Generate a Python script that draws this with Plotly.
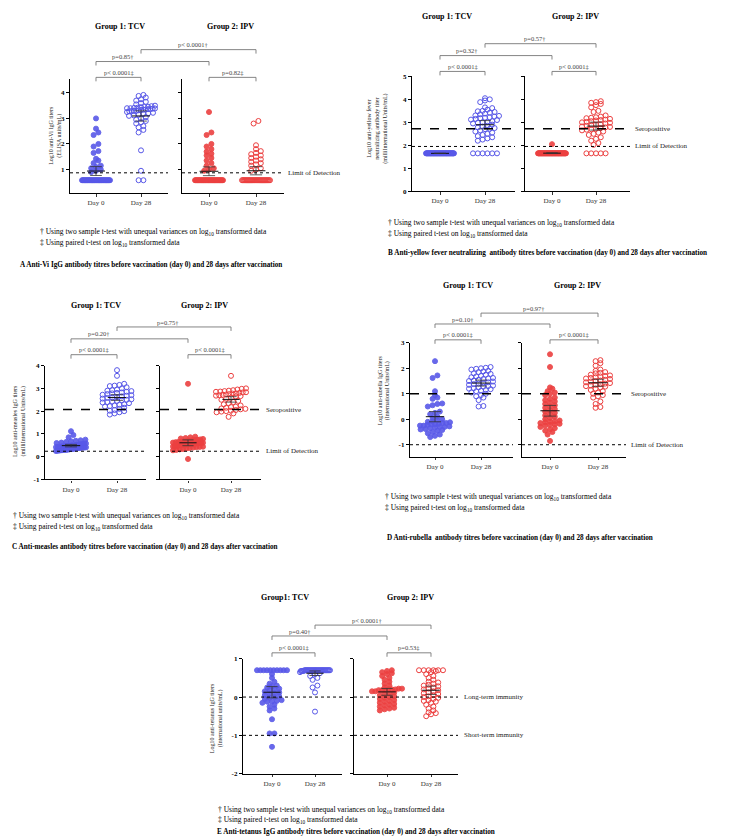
import numpy as np
import plotly.graph_objects as go

W, H = 731, 837
FONT = "Liberation Serif"
BLUE = "rgb(88,88,232)"
RED = "rgb(236,64,64)"

# ---------------- data (log10 titres) ----------------
DAYS = ["Day 0", "Day 28"]

A_TCV_D0 = [0.58, 0.58, 0.58, 0.58, 0.58, 0.58, 0.58, 0.58, 0.58, 0.58,
            0.58, 0.58, 0.58, 0.58, 0.58, 0.58, 0.58, 0.58, 0.58, 0.58,
            0.58, 0.58, 0.58, 0.58, 0.58, 0.58, 0.58, 0.58, 0.58, 0.58,
            0.58, 0.58, 0.58,
            0.9, 0.95, 1.0, 1.05, 1.1, 1.15, 1.25, 1.35, 1.42, 1.65, 1.72,
            1.9, 2.0, 2.35, 2.45, 2.6, 3.0]
A_TCV_D28 = [3.92, 3.88, 3.82, 3.75, 3.7, 3.65, 3.6, 3.55, 3.5, 3.48, 3.46,
             3.45, 3.44, 3.42, 3.41, 3.4, 3.4, 3.39, 3.38, 3.37, 3.36, 3.35,
             3.34, 3.33, 3.32, 3.3, 3.3, 3.29, 3.28, 3.25, 3.22, 3.2, 3.18,
             3.15, 3.12, 3.1, 3.05, 3.0, 2.95, 2.9, 2.85, 2.8, 2.7, 2.65,
             2.55, 2.45, 1.75, 0.95, 0.58, 0.58]
A_IPV_D0 = [0.58, 0.58, 0.58, 0.58, 0.58, 0.58, 0.58, 0.58, 0.58, 0.58,
            0.58, 0.58, 0.58, 0.58, 0.58, 0.58, 0.58, 0.58, 0.58, 0.58,
            0.58, 0.58, 0.58, 0.58, 0.58, 0.58, 0.58, 0.58, 0.58, 0.58,
            0.58, 0.58, 0.58, 0.58,
            0.95, 1.0, 1.05, 1.15, 1.25, 1.35, 1.45, 1.55, 1.62, 1.7, 1.8,
            1.9, 2.0, 2.35, 2.45, 3.25]
A_IPV_D28 = [0.58, 0.58, 0.58, 0.58, 0.58, 0.58, 0.58, 0.58, 0.58, 0.58,
             0.58, 0.58, 0.58, 0.58, 0.58, 0.58, 0.58, 0.58, 0.58, 0.58,
             0.58, 0.58, 0.58, 0.58, 0.58, 0.58, 0.58, 0.58, 0.58, 0.58,
             0.58,
             0.95, 1.0, 1.05, 1.15, 1.2, 1.25, 1.3, 1.35, 1.4, 1.45, 1.5,
             1.55, 1.6, 1.65, 1.72, 1.8, 1.95, 2.8, 2.9]

B_TCV_D0 = [1.65, 1.65, 1.65, 1.65, 1.65, 1.65, 1.65, 1.65, 1.65, 1.65,
            1.65, 1.65, 1.65, 1.65, 1.65, 1.65, 1.65, 1.65, 1.65, 1.65,
            1.65, 1.65, 1.65, 1.65, 1.65, 1.65, 1.65, 1.65, 1.65, 1.65,
            1.65, 1.65, 1.65, 1.65, 1.65, 1.65, 1.65, 1.65, 1.65, 1.65,
            1.65, 1.65, 1.65, 1.65, 1.65, 1.65, 1.65, 1.65]
B_TCV_D28 = [4.05, 4.0, 3.95, 3.88, 3.65, 3.62, 3.55, 3.5, 3.48, 3.45, 3.42,
             3.38, 3.35, 3.3, 3.28, 3.25, 3.22, 3.2, 3.18, 3.15, 3.12, 3.1,
             3.05, 3.02, 3.0, 2.98, 2.95, 2.9, 2.85, 2.82, 2.78, 2.75, 2.72,
             2.7, 2.65, 2.6, 2.55, 2.5, 2.45, 2.4, 2.35, 2.3, 2.25, 2.2,
             1.65, 1.65, 1.65, 1.65, 1.65, 1.65]
B_IPV_D0 = [1.65, 1.65, 1.65, 1.65, 1.65, 1.65, 1.65, 1.65, 1.65, 1.65,
            1.65, 1.65, 1.65, 1.65, 1.65, 1.65, 1.65, 1.65, 1.65, 1.65,
            1.65, 1.65, 1.65, 1.65, 1.65, 1.65, 1.65, 1.65, 1.65, 1.65,
            1.65, 1.65, 1.65, 1.65, 1.65, 1.65, 1.65, 1.65, 1.65, 1.65,
            1.65, 1.65, 1.65, 1.65, 1.65, 1.65, 1.65, 1.65, 2.05]
B_IPV_D28 = [3.92, 3.88, 3.85, 3.8, 3.75, 3.65, 3.5, 3.45, 3.3, 3.25, 3.22,
             3.2, 3.18, 3.15, 3.12, 3.1, 3.08, 3.05, 3.02, 3.0, 2.98, 2.95,
             2.92, 2.9, 2.88, 2.85, 2.82, 2.8, 2.78, 2.75, 2.72, 2.7, 2.68,
             2.65, 2.6, 2.55, 2.5, 2.45, 2.35, 2.28, 2.2, 2.1, 2.02,
             1.65, 1.65, 1.65, 1.65, 1.65]

C_TCV_D0 = [1.12, 0.95, 0.85, 0.75, 0.72, 0.7, 0.68, 0.65, 0.62, 0.6, 0.58,
            0.57, 0.55, 0.55, 0.53, 0.52, 0.5, 0.5, 0.49, 0.48, 0.47, 0.46,
            0.45, 0.45, 0.44, 0.43, 0.42, 0.41, 0.4, 0.4, 0.39, 0.38, 0.37,
            0.36, 0.35, 0.34, 0.33, 0.32, 0.31, 0.3, 0.3, 0.29, 0.28, 0.27,
            0.26, 0.25]
C_TCV_D28 = [3.8, 3.55, 3.2, 3.15, 3.12, 3.1, 3.05, 3.0, 2.95, 2.92, 2.9,
             2.88, 2.85, 2.82, 2.8, 2.78, 2.75, 2.72, 2.7, 2.68, 2.65, 2.62,
             2.6, 2.58, 2.55, 2.52, 2.5, 2.48, 2.45, 2.42, 2.4, 2.38, 2.35,
             2.3, 2.28, 2.25, 2.22, 2.2, 2.15, 2.1, 2.05, 2.02, 2.0, 1.95,
             1.9, 1.85]
C_IPV_D0 = [3.2, 0.88, 0.85, 0.82, 0.8, 0.78, 0.76, 0.75, 0.73, 0.72, 0.7,
            0.68, 0.67, 0.66, 0.65, 0.64, 0.62, 0.61, 0.6, 0.59, 0.58, 0.57,
            0.56, 0.55, 0.54, 0.53, 0.52, 0.51, 0.5, 0.49, 0.48, 0.47, 0.46,
            0.45, 0.44, 0.43, 0.42, 0.4, 0.38, 0.36, 0.34, 0.32, 0.3, 0.28,
            -0.1]
C_IPV_D28 = [3.55, 3.0, 2.98, 2.95, 2.92, 2.9, 2.88, 2.86, 2.85, 2.83, 2.82,
             2.8, 2.78, 2.77, 2.75, 2.73, 2.72, 2.7, 2.68, 2.66, 2.65, 2.6,
             2.55, 2.5, 2.45, 2.4, 2.35, 2.3, 2.25, 2.2, 2.18, 2.15, 2.12,
             2.1, 2.08, 2.05, 2.02, 2.0, 1.98, 1.95, 1.9, 1.75]

D_TCV_D0 = [2.28, 1.72, 1.62, 1.1, 0.95, 0.85, 0.8, 0.62, 0.6, 0.55, 0.5,
            0.3, 0.25, 0.2, 0.1, 0.05, 0.0, -0.05, -0.08, -0.1, -0.12, -0.15,
            -0.15, -0.18, -0.2, -0.2, -0.22, -0.25, -0.25, -0.28, -0.3, -0.3,
            -0.32, -0.35, -0.38, -0.4, -0.42, -0.45, -0.5, -0.55, -0.6,
            -0.65, -0.7]
D_TCV_D28 = [2.05, 2.02, 2.0, 1.98, 1.95, 1.9, 1.88, 1.85, 1.8, 1.78, 1.75,
             1.7, 1.68, 1.65, 1.62, 1.6, 1.58, 1.55, 1.52, 1.5, 1.48, 1.45,
             1.42, 1.4, 1.38, 1.35, 1.32, 1.3, 1.28, 1.25, 1.22, 1.2, 1.18,
             1.15, 1.12, 1.1, 1.05, 1.0, 0.95, 0.9, 0.85, 0.75, 0.52, 0.5]
D_IPV_D0 = [2.55, 2.05, 1.25, 1.2, 1.1, 1.05, 1.0, 0.95, 0.85, 0.8, 0.75,
            0.7, 0.65, 0.6, 0.55, 0.5, 0.45, 0.4, 0.35, 0.3, 0.25, 0.2, 0.15,
            0.1, 0.05, 0.0, -0.05, -0.08, -0.1, -0.12, -0.15, -0.18, -0.2,
            -0.22, -0.25, -0.3, -0.35, -0.4, -0.45, -0.5, -0.6, -0.85]
D_IPV_D28 = [2.32, 2.28, 2.2, 2.1, 1.95, 1.9, 1.85, 1.82, 1.8, 1.75, 1.72,
             1.7, 1.68, 1.65, 1.62, 1.6, 1.58, 1.55, 1.52, 1.5, 1.48, 1.45,
             1.42, 1.4, 1.38, 1.35, 1.32, 1.3, 1.28, 1.25, 1.2, 1.15, 1.1,
             1.05, 1.0, 0.95, 0.9, 0.85, 0.7, 0.6, 0.48, 0.45]

E_TCV_D0 = [0.7, 0.7, 0.7, 0.7, 0.7, 0.7, 0.7, 0.7, 0.7, 0.7,
            0.6, 0.5, 0.4, 0.35, 0.3, 0.28, 0.25, 0.22, 0.2, 0.18, 0.15,
            0.12, 0.1, 0.08, 0.05, 0.02, 0.0, -0.02, -0.05, -0.08, -0.1,
            -0.12, -0.12, -0.15, -0.2, -0.25, -0.3, -0.35, -0.58, -0.95,
            -0.95, -1.3]
E_TCV_D28 = [0.7, 0.7, 0.7, 0.7, 0.7, 0.7, 0.7, 0.7, 0.7, 0.7,
             0.7, 0.7, 0.7, 0.7, 0.7, 0.7, 0.7, 0.7, 0.7, 0.7,
             0.7, 0.7, 0.7, 0.7, 0.7, 0.7, 0.7, 0.7, 0.7, 0.7,
             0.68, 0.68, 0.68, 0.68, 0.65, 0.62, 0.6, 0.55, 0.5, 0.45, 0.3,
             0.25, 0.12, -0.38]
E_IPV_D0 = [0.7, 0.68, 0.65, 0.62, 0.6, 0.55, 0.5, 0.45, 0.4, 0.35, 0.3,
            0.25, 0.22, 0.22, 0.2, 0.2, 0.2, 0.18, 0.18, 0.18, 0.15, 0.15,
            0.12, 0.1, 0.08, 0.05, 0.02, 0.0, -0.02, -0.05, -0.08, -0.1,
            -0.12, -0.15, -0.18, -0.2, -0.22, -0.25, -0.28, -0.3, -0.32,
            -0.35]
E_IPV_D28 = [0.7, 0.7, 0.7, 0.7, 0.7, 0.7, 0.68, 0.65, 0.6, 0.55, 0.5,
             0.45, 0.4, 0.38, 0.35, 0.32, 0.3, 0.28, 0.25, 0.22, 0.2, 0.18,
             0.15, 0.12, 0.1, 0.08, 0.05, 0.02, 0.0, -0.02, -0.05, -0.08,
             -0.1, -0.12, -0.15, -0.2, -0.25, -0.3, -0.35, -0.4, -0.42,
             -0.45, -0.5]

FOOT1 = "† Using two sample t-test with unequal variances on log<sub>10</sub> transformed data"
FOOT2 = "‡ Using paired t-test on log<sub>10</sub> transformed data"

PANELS = [
    dict(
        tcv=(A_TCV_D0, A_TCV_D28), ipv=(A_IPV_D0, A_IPV_D28),
        titles=("Group 1: TCV", "Group 2: IPV"),
        ytitle="Log10 anti-Vi IgG titers<br>(ELISA units/mL)",
        yticks=[1, 2, 3, 4], yr=[0.07, 4.53],
        refs=[(0.87, "dot", "Limit of Detection")],
        p=("p< 0.0001‡", "p=0.82‡", "p=0.85†", "p< 0.0001†"),
        caption="A Anti-Vi IgG antibody titres before vaccination (day 0) and 28 days after vaccination",
        left=(62, 160, 88, 133), right=(174, 276, 201, 248), T=68, B=183,
        ttl=((112, 15), (222, 15)), yl=(48, 125), refx=278,
        br=(66, 50, 38), foot=(30, 222, 233), cap=(10, 255), maxw=28,
    ),
    dict(
        tcv=(B_TCV_D0, B_TCV_D28), ipv=(B_IPV_D0, B_IPV_D28),
        titles=("Group 1: TCV", "Group 2: IPV"),
        ytitle="Log10 anti-yellow fever<br>neutralizing antibody titer<br>(milliInternational Units/mL)",
        yticks=[0, 1, 2, 3, 4, 5], yr=[0, 5],
        refs=[(2.72, "dash", "Seropositive"), (1.95, "dot", "Limit of Detection")],
        p=("p< 0.0001‡", "p< 0.0001‡", "p=0.32†", "p=0.57†"),
        caption="B Anti-yellow fever neutralizing  antibody titres before vaccination (day 0) and 28 days after vaccination",
        left=(404, 507, 432, 477), right=(517, 622, 544, 588), T=65, B=181,
        ttl=((439, 5), (567, 5)), yl=(370, 118), refx=625,
        br=(60, 44, 32), foot=(378, 213, 224), cap=(378, 243), maxw=28,
    ),
    dict(
        tcv=(C_TCV_D0, C_TCV_D28), ipv=(C_IPV_D0, C_IPV_D28),
        titles=("Group 1: TCV", "Group 2: IPV"),
        ytitle="Log10 anti-measles IgG titers<br>(milliInternational Units/mL)",
        yticks=[-1, 0, 1, 2, 3, 4], yr=[-1, 4],
        refs=[(2.07, "dash", "Seropositive"), (0.24, "dot", "Limit of Detection")],
        p=("p< 0.0001‡", "p< 0.0001‡", "p=0.20†", "p=0.75†"),
        caption="C Anti-measles antibody titres before vaccination (day 0) and 28 days after vaccination",
        left=(37, 138, 63, 109), right=(152, 253, 180, 223), T=357, B=472,
        ttl=((88, 296), (196, 296)), yl=(11, 413), refx=256,
        br=(346, 330, 318), foot=(3, 509, 520), cap=(2, 540), maxw=30,
    ),
    dict(
        tcv=(D_TCV_D0, D_TCV_D28), ipv=(D_IPV_D0, D_IPV_D28),
        titles=("Group 1: TCV", "Group 2: IPV"),
        ytitle="Log10 anti-rubella IgG titers<br>(International Units/mL)",
        yticks=[-1, 0, 1, 2, 3], yr=[-1.47, 3],
        refs=[(1.0, "dash", "Seropositive"), (-1.0, "dot", "Limit of Detection")],
        p=("p< 0.0001‡", "p< 0.0001‡", "p=0.10†", "p=0.97†"),
        caption="D Anti-rubella  antibody titres before vaccination (day 0) and 28 days after vaccination",
        left=(402, 505, 427, 473), right=(514, 618, 542, 590), T=334, B=449,
        ttl=((460, 276), (569, 276)), yl=(376, 382), refx=621,
        br=(331, 315, 304), foot=(375, 490, 501), cap=(377, 531), maxw=30,
    ),
    dict(
        tcv=(E_TCV_D0, E_TCV_D28), ipv=(E_IPV_D0, E_IPV_D28),
        titles=("Group1: TCV", "Group 2: IPV"),
        ytitle="Log10 anti-tetanus IgG titers<br>(International units/mL)",
        yticks=[-2, -1, 0, 1], yr=[-2, 1],
        refs=[(0.0, "dot", "Long-term immunity"), (-1.0, "dot", "Short-term immunity")],
        p=("p< 0.0001‡", "p=0.53‡", "p=0.40†", "p< 0.0001†"),
        caption="E Anti-tetanus IgG antibody titres before vaccination (day 0) and 28 days after vaccination",
        left=(235, 334, 264, 307), right=(346, 450, 379, 423), T=653, B=769,
        ttl=((277, 591), (402, 591)), yl=(208, 713), refx=454,
        br=(647, 630, 619), foot=(208, 806, 816), cap=(207, 828), maxw=30,
    ),
]

fig = go.Figure()
layout = {}
shapes = []
annotations = []


def fx(p):
    return p / W


def fy(p):
    return 1 - p / H


def swarm(vals, ux, uy, d=4.8, maxw=30):
    vals = np.asarray(vals, float)
    order = np.argsort(vals, kind="stable")
    pix = vals * uy
    offs = np.zeros(len(vals))
    rows, cur, start = [], [order[0]], pix[order[0]]
    for i in order[1:]:
        if pix[i] - start < d * 0.8:
            cur.append(i)
        else:
            rows.append(cur)
            cur, start = [i], pix[i]
    rows.append(cur)
    for row in rows:
        n = len(row)
        sp = d if n <= 1 else min(d, maxw / (n - 1))
        pos = (np.arange(n) - (n - 1) / 2) * sp
        for j, idx in enumerate(row):
            offs[idx] = pos[j] / ux
    return offs


def txt(x, y, s, size, color="black", xanchor="left", yanchor="middle", angle=0):
    annotations.append(dict(
        x=fx(x), y=fy(y), xref="paper", yref="paper", text=s, showarrow=False,
        xanchor=xanchor, yanchor=yanchor, textangle=angle, align="center",
        font=dict(family=FONT, size=size, color=color)))


k = 0
for P in PANELS:
    T, B = P["T"], P["B"]
    yr = P["yr"]
    uy = (B - T) / (yr[1] - yr[0])
    cat_px = []
    for side, (geo, grp, color) in enumerate(((P["left"], P["tcv"], BLUE),
                                               (P["right"], P["ipv"], RED))):
        k += 1
        L, R, d0, d28 = geo
        ux = d28 - d0
        xr = [(L - d0) / ux, (R - d0) / ux]
        xs = "" if k == 1 else str(k)
        layout["xaxis" + xs] = dict(
            domain=[fx(L), fx(R)], range=xr, anchor="y" + xs,
            showline=True, linecolor="black", linewidth=1.3, showgrid=False,
            zeroline=False, ticks="outside", ticklen=2.5, tickwidth=1,
            tickcolor="#333", tickvals=[0, 1], ticktext=DAYS,
            tickfont=dict(family=FONT, size=7, color="#333"), fixedrange=True)
        layout["yaxis" + xs] = dict(
            domain=[fy(B), fy(T)], range=yr, anchor="x" + xs,
            showline=True, linecolor="black", linewidth=1.3, showgrid=False,
            zeroline=False, ticks="outside", ticklen=3, tickwidth=1.3,
            tickcolor="black", tickvals=P["yticks"],
            ticktext=["<b>%g</b>" % v for v in P["yticks"]],
            showticklabels=(side == 0),
            tickfont=dict(family=FONT, size=7, color="black"), fixedrange=True)
        for xi, vals in enumerate(grp):
            filled = xi == 0
            offs = swarm(vals, ux, uy, maxw=P["maxw"])
            fig.add_trace(go.Scatter(
                x=xi + offs, y=vals, mode="markers", xaxis="x" + xs, yaxis="y" + xs,
                marker=dict(symbol="circle" if filled else "circle-open", size=5,
                            color=color, opacity=0.9 if filled else 1,
                            line=dict(width=1, color=color)),
                hoverinfo="skip"))
            v = np.asarray(vals, float)
            m = v.mean()
            ci = 1.96 * v.std(ddof=1) / np.sqrt(len(v))
            fig.add_trace(go.Scatter(x=[xi - 0.2, xi + 0.2], y=[m, m], mode="lines",
                                     line=dict(color="#111", width=1), xaxis="x" + xs,
                                     yaxis="y" + xs, hoverinfo="skip"))
            fig.add_trace(go.Scatter(
                x=[xi - 0.13, xi + 0.13, None, xi, xi, None, xi - 0.13, xi + 0.13],
                y=[m + ci, m + ci, None, m + ci, m - ci, None, m - ci, m - ci],
                mode="lines", line=dict(color="#333", width=0.8), xaxis="x" + xs,
                yaxis="y" + xs, hoverinfo="skip"))
        for val, dash, _ in P["refs"]:
            shapes.append(dict(type="line", xref="x%s domain" % xs, yref="y" + xs,
                               x0=0, x1=1, y0=val, y1=val,
                               line=dict(color="black", width=1.4 if dash == "dash" else 1,
                                         dash=dash)))
        cat_px.append((L + (0 - xr[0]) / (xr[1] - xr[0]) * (R - L),
                       L + (1 - xr[0]) / (xr[1] - xr[0]) * (R - L)))
        tx, ty = P["ttl"][side]
        txt(tx, ty, "<b>%s</b>" % P["titles"][side], 8, xanchor="center")

    # reference line labels
    for val, dash, label in P["refs"]:
        ypx = T + (yr[1] - val) * uy
        txt(P["refx"], ypx, label, 7, color="#222")

    # significance brackets
    (t0, t28), (i0, i28) = cat_px
    yin, yd0, yd28 = P["br"]
    tick = 4
    brs = [(t0, t28, yin, P["p"][0], 0.5), (i0, i28, yin, P["p"][1], 0.5),
           (t0, i0, yd0, P["p"][2], 0.24), (t28, i28, yd28, P["p"][3], 0.45)]
    for xa, xb, yb, lab, frac in brs:
        path = "M %f,%f L %f,%f L %f,%f L %f,%f" % (
            fx(xa), fy(yb + tick), fx(xa), fy(yb), fx(xb), fy(yb), fx(xb), fy(yb + tick))
        shapes.append(dict(type="path", path=path, xref="paper", yref="paper",
                           line=dict(color="#777", width=0.9)))
        txt(xa + frac * (xb - xa), yb - 5, lab, 6.5, color="#444",
            xanchor="center", yanchor="middle")

    # y-axis title
    txt(P["yl"][0], P["yl"][1], P["ytitle"], 6, color="#222",
        xanchor="center", yanchor="middle", angle=-90)
    # footnotes and caption
    fxp, f1, f2 = P["foot"]
    txt(fxp, f1, FOOT1, 7.5)
    txt(fxp, f2, FOOT2, 7.5)
    txt(P["cap"][0], P["cap"][1], "<b>%s</b>" % P["caption"], 7.2)

fig.update_layout(
    width=W, height=H, margin=dict(l=0, r=0, t=0, b=0), autosize=False,
    paper_bgcolor="white", plot_bgcolor="white", showlegend=False,
    font=dict(family=FONT), shapes=shapes, annotations=annotations, **layout)

fig.write_html("out.html")
